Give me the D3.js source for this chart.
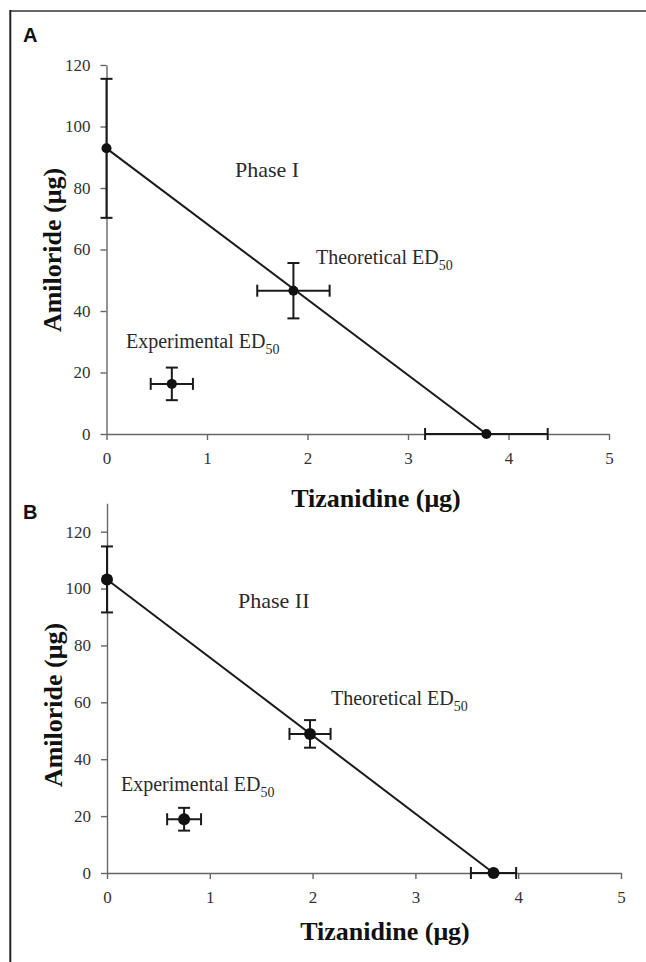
<!DOCTYPE html>
<html>
<head>
<meta charset="utf-8">
<script src="https://cdn.jsdelivr.net/npm/d3@7"></script>
<style>
  body { margin: 0; background: #fff; }
  svg text { font-family: "Liberation Serif", "Times New Roman", serif; }
  .tick text { font-family: "Liberation Serif", "Times New Roman", serif !important; font-size: 17px !important; }
</style>
</head>
<body>
<svg id="chart" width="646" height="962"></svg>
<script>
// tick values
const xTicks = [0, 1, 2, 3, 4, 5];
const yTicks = [0, 20, 40, 60, 80, 100, 120];

// panel A (phase I): amiloride alone, tizanidine alone, theoretical, experimental
const phaseIX = [0, 3.78, 1.86, 0.65];
const phaseIY = [92.9, 0, 46.6, 16.3];
const phaseIXErr = [0, 0.61, 0.36, 0.21];
const phaseIYErr = [22.6, 0, 9.0, 5.3];

// panel B (phase II)
const phaseIIX = [0, 3.76, 1.975, 0.75];
const phaseIIY = [103.2, 0, 48.9, 18.9];
const phaseIIXErr = [0, 0.22, 0.2, 0.165];
const phaseIIYErr = [11.6, 0, 4.85, 4.0];

const svg = d3.select("#chart");

// outer frame (top + left only)
svg.append("line").attr("x1", 10).attr("x2", 646).attr("y1", 11).attr("y2", 11)
  .attr("stroke", "#666").attr("stroke-width", 2);
svg.append("line").attr("x1", 10.3).attr("x2", 10.3).attr("y1", 10).attr("y2", 962)
  .attr("stroke", "#222").attr("stroke-width", 2);

function drawPanel(opt) {
  const x = d3.scaleLinear().domain([0, 5]).range(opt.xRange);
  const y = d3.scaleLinear().domain([0, opt.yMax]).range(opt.yRange);
  const g = svg.append("g");

  // panel letter
  svg.append("text").attr("x", 23).attr("y", opt.letterY)
    .style("font-family", "Arial, 'Liberation Sans', sans-serif")
    .style("font-size", "20px").style("font-weight", "bold").attr("fill", "#111")
    .text(opt.letter);

  // axes
  const xAxis = g.append("g").attr("transform", "translate(0," + y(0) + ")")
    .call(d3.axisBottom(x).tickValues(xTicks).tickSize(6).tickSizeOuter(0).tickPadding(12)
      .tickFormat(d3.format("d")));
  const yAxis = g.append("g").attr("transform", "translate(" + x(0) + ",0)")
    .call(d3.axisLeft(y).tickValues(yTicks).tickSize(6).tickSizeOuter(0).tickPadding(10)
      .tickFormat(d3.format("d")));
  [xAxis, yAxis].forEach(a => {
    a.attr("font-family", "Liberation Serif, Times New Roman, serif").attr("font-size", 17);
    a.selectAll("path, line").attr("stroke", "#666").attr("stroke-width", 1.4);
    a.selectAll("text").attr("fill", "#333")
      .attr("font-family", "Liberation Serif, Times New Roman, serif").attr("font-size", 17);
  });

  // axis titles
  g.append("text").attr("x", opt.xTitleX).attr("y", opt.xTitleY).attr("text-anchor", "middle")
    .style("font-size", "26px").style("font-weight", "bold").attr("fill", "#111")
    .text("Tizanidine (μg)");
  g.append("text")
    .attr("transform", "translate(" + opt.yTitleX + "," + opt.yTitleY + ") rotate(-90)")
    .attr("text-anchor", "middle")
    .style("font-size", "26px").style("font-weight", "bold").attr("fill", "#111")
    .text("Amiloride (μg)");

  const xs = opt.xs, ys = opt.ys, xe = opt.xe, ye = opt.ye;
  const pts = xs.map((v, i) => ({ x: v, y: ys[i], xe: xe[i], ye: ye[i] }));

  // isobole
  g.append("path").datum(pts.slice(0, 2))
    .attr("d", d3.line().x(d => x(d.x)).y(d => y(d.y)))
    .attr("fill", "none").attr("stroke", "#1a1a1a").attr("stroke-width", 2);

  // error bars
  const cap = 6;
  const eb = g.append("g").attr("stroke", "#1a1a1a").attr("stroke-width", 2);
  pts.forEach(d => {
    if (d.ye > 0) {
      eb.append("line").attr("x1", x(d.x)).attr("x2", x(d.x))
        .attr("y1", y(d.y - d.ye)).attr("y2", y(d.y + d.ye));
      [d.y - d.ye, d.y + d.ye].forEach(v => {
        eb.append("line").attr("x1", x(d.x) - cap).attr("x2", x(d.x) + cap)
          .attr("y1", y(v)).attr("y2", y(v));
      });
    }
    if (d.xe > 0) {
      eb.append("line").attr("y1", y(d.y)).attr("y2", y(d.y))
        .attr("x1", x(d.x - d.xe)).attr("x2", x(d.x + d.xe));
      [d.x - d.xe, d.x + d.xe].forEach(v => {
        eb.append("line").attr("y1", y(d.y) - cap).attr("y2", y(d.y) + cap)
          .attr("x1", x(v)).attr("x2", x(v));
      });
    }
  });

  // points
  g.selectAll("circle.pt").data(pts).enter().append("circle")
    .attr("class", "pt")
    .attr("cx", d => x(d.x)).attr("cy", d => y(d.y)).attr("r", opt.r)
    .attr("fill", "#111");

  // annotations
  g.append("text").attr("x", opt.phaseX).attr("y", opt.phaseY)
    .style("font-size", "22px").attr("fill", "#2a2a2a").text(opt.phase);

  function edLabel(tx, ty, word) {
    const t = g.append("text").attr("x", tx).attr("y", ty)
      .style("font-size", "20px").attr("fill", "#2a2a2a");
    t.append("tspan").text(word + " ED");
    t.append("tspan").attr("dy", 6).style("font-size", "14px").text("50");
  }
  edLabel(opt.theoX, opt.theoY, "Theoretical");
  edLabel(opt.expX, opt.expY, "Experimental");
}

drawPanel({
  letter: "A", letterY: 42,
  xRange: [106.5, 609], yRange: [434, 65], yMax: 120,
  xs: phaseIX, ys: phaseIY, xe: phaseIXErr, ye: phaseIYErr, r: 5,
  xTitleX: 376, xTitleY: 507, yTitleX: 61, yTitleY: 250,
  phase: "Phase I", phaseX: 235, phaseY: 177,
  theoX: 316, theoY: 264, expX: 126, expY: 348
});

drawPanel({
  letter: "B", letterY: 519,
  xRange: [107, 621], yRange: [873, 503.2], yMax: 130,
  xs: phaseIIX, ys: phaseIIY, xe: phaseIIXErr, ye: phaseIIYErr, r: 6,
  xTitleX: 385, xTitleY: 940, yTitleX: 62, yTitleY: 705,
  phase: "Phase II", phaseX: 238, phaseY: 608,
  theoX: 331, theoY: 705, expX: 121, expY: 791
});
</script>
</body>
</html>
